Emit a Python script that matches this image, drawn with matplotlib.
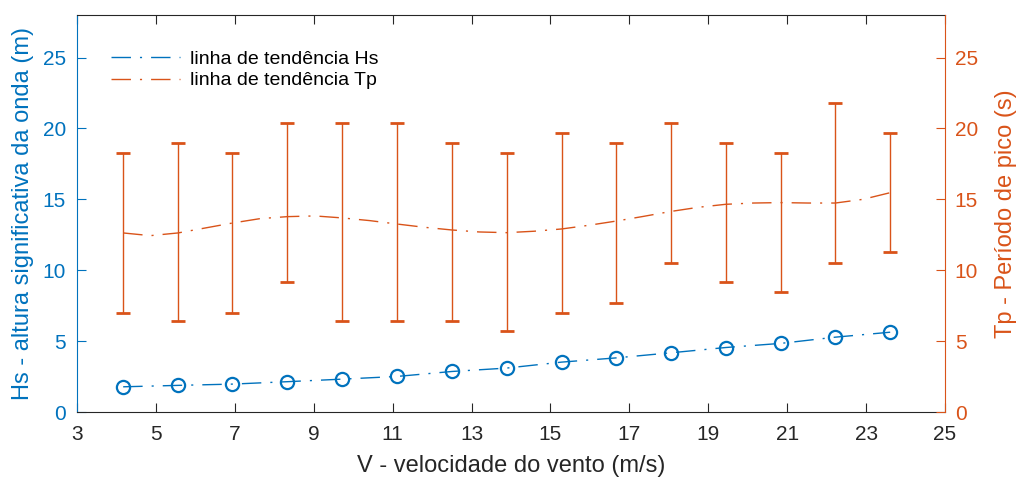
import matplotlib
matplotlib.use("Agg")
import matplotlib.pyplot as plt
import numpy as np

plt.rcParams['font.family'] = ['Liberation Sans', 'DejaVu Sans']

# ---- data ----
wind = [4.17, 5.56, 6.94, 8.33, 9.72, 11.11, 12.50, 13.89, 15.28, 16.67,
        18.06, 19.44, 20.83, 22.22, 23.61]
hs = [1.78, 1.88, 1.97, 2.14, 2.32, 2.51, 2.86, 3.10, 3.52, 3.82,
      4.18, 4.55, 4.84, 5.28, 5.63]
tp_low = [7.0, 6.4, 7.0, 9.2, 6.4, 6.4, 6.4, 5.7, 7.0, 7.7,
          10.5, 9.2, 8.5, 10.5, 11.3]
tp_high = [18.3, 19.0, 18.3, 20.4, 20.4, 20.4, 19.0, 18.3, 19.7, 19.0,
           20.4, 19.0, 18.3, 21.8, 19.7]
tp_trend_x = [4.17, 4.86, 5.56, 6.25, 6.94, 7.64, 8.33, 9.03, 9.72, 10.42,
              11.11, 11.80, 12.50, 13.19, 13.89, 14.58, 15.28, 15.97, 16.67,
              17.36, 18.06, 18.75, 19.44, 20.14, 20.83, 21.53, 22.22, 22.92,
              23.61]
tp_trend = [12.63, 12.44, 12.63, 12.98, 13.33, 13.64, 13.78, 13.83, 13.69,
            13.50, 13.26, 13.03, 12.84, 12.70, 12.65, 12.75, 12.91, 13.17,
            13.47, 13.80, 14.15, 14.44, 14.65, 14.74, 14.77, 14.74, 14.74,
            15.00, 15.47]

xticks = [3, 5, 7, 9, 11, 13, 15, 17, 19, 21, 23, 25]
yticks = [0, 5, 10, 15, 20, 25]

blue = '#0072BD'
orange = '#D95319'
dark = '#262626'
dash_dot = (0, (14, 6.5, 1.5, 6.5))

fig = plt.figure(figsize=(10.2, 4.78), dpi=100)
ax = fig.add_axes([0.0755, 0.138, 0.851, 0.8306])
ax2 = ax.twinx()

# Hs on left axis
ax.plot(wind, hs, linestyle='none', marker='o', markersize=9.5,
        markerfacecolor='none', markeredgecolor=blue, markeredgewidth=1.6,
        zorder=3)
lh, = ax.plot(wind, hs, color=blue, linewidth=1.0, linestyle=dash_dot,
              label='linha de tendência Hs')

# Tp on right axis
lo = np.array(tp_low)
hi = np.array(tp_high)
mid = (lo + hi) / 2
ax2.errorbar(wind, mid, yerr=[mid - lo, hi - mid], fmt='none',
             ecolor=orange, elinewidth=1.0, capsize=4.7, capthick=2.0)
lt, = ax2.plot(tp_trend_x, tp_trend, color=orange, linewidth=1.0,
               linestyle=dash_dot, label='linha de tendência Tp')

ax.set_xlim(3, 25)
ax.set_ylim(0, 28)
ax2.set_ylim(0, 28)
ax.set_xticks(xticks)
ax.set_yticks(yticks)
ax2.set_yticks(yticks)

tl = 8.7 * 0.72
ax.tick_params(axis='x', direction='in', length=tl, width=0.8,
               colors=dark, labelsize=15, top=True, pad=9)
ax.tick_params(axis='y', direction='in', length=tl, width=0.8,
               colors=blue, labelsize=15, pad=8)
ax2.tick_params(axis='y', direction='in', length=tl, width=0.8,
                colors=orange, labelsize=15, pad=7)

for s in ['top', 'bottom']:
    ax.spines[s].set_color(dark)
    ax.spines[s].set_linewidth(0.8)
    ax2.spines[s].set_visible(False)
ax.spines['left'].set_color(blue)
ax.spines['left'].set_linewidth(0.8)
ax.spines['right'].set_visible(False)
ax2.spines['left'].set_visible(False)
ax2.spines['right'].set_color(orange)
ax2.spines['right'].set_linewidth(0.8)

ax.set_xlabel('V - velocidade do vento (m/s)', fontsize=17, color=dark,
              labelpad=8)
ax.set_ylabel('Hs - altura significativa da onda (m)', fontsize=17,
              color=blue, labelpad=6)
ax2.set_ylabel('Tp - Período de pico (s)', fontsize=17, color=orange,
               labelpad=12)

leg = ax2.legend(handles=[lh, lt], loc='upper left',
                 bbox_to_anchor=(0.039, 0.912), frameon=False, fontsize=14,
                 handlelength=3.55, handletextpad=0.5, labelspacing=0.22,
                 borderpad=0, borderaxespad=0)

fig.savefig('out.png', dpi=100)
